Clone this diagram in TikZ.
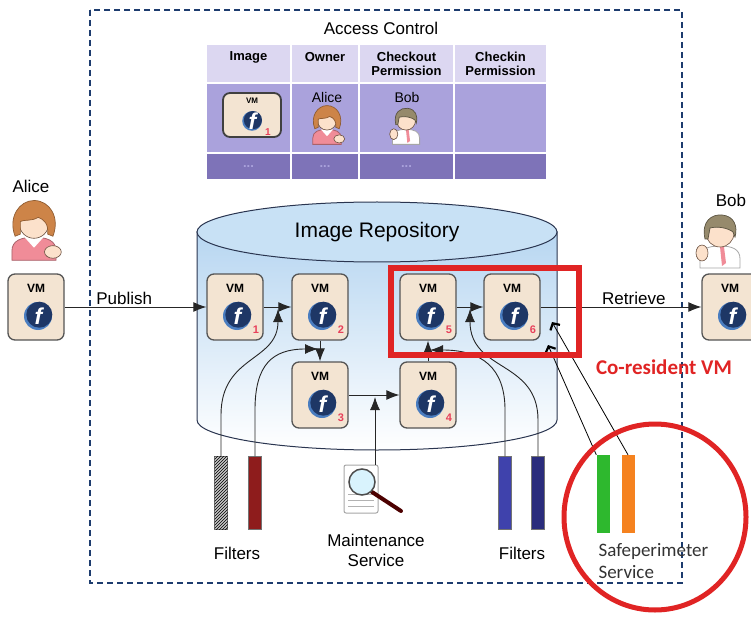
\documentclass[tikz,border=0pt]{standalone}
\usepackage{fontspec}
\setmainfont{Liberation Sans}
\newfontfamily\calibri{Carlito}
\usetikzlibrary{arrows.meta,patterns}

\definecolor{navy}{HTML}{1D3C6E}
\definecolor{vmfill}{HTML}{F3E4D2}
\definecolor{vmline}{HTML}{555555}
\definecolor{fedblue}{HTML}{1E3766}
\definecolor{fedlight}{HTML}{4A7DC0}
\definecolor{numred}{HTML}{E8405A}
\definecolor{achead}{HTML}{DCD7F1}
\definecolor{acbody}{HTML}{AAA2DC}
\definecolor{acfoot}{HTML}{7E73B8}
\definecolor{cylblue}{HTML}{B7D6F1}
\definecolor{cyltop}{HTML}{C8E1F5}
\definecolor{cylline}{HTML}{2A3550}
\definecolor{alarm}{HTML}{E02424}
\definecolor{skin}{HTML}{FCE1CB}
\definecolor{hairbrown}{HTML}{CD8448}
\definecolor{hairgrey}{HTML}{968A6C}
\definecolor{pinkbody}{HTML}{F08C98}
\definecolor{outline}{HTML}{6A5040}
\definecolor{filtred}{HTML}{8E1C1C}
\definecolor{filtblue}{HTML}{3F42AC}
\definecolor{filtnavy}{HTML}{2A2C7C}
\definecolor{spgreen}{HTML}{2EB82E}
\definecolor{sporange}{HTML}{F5821F}

\tikzset{
  vm/.style={draw=vmline, line width=1.3pt, fill=vmfill, rounded corners=7pt,
    minimum width=56pt, minimum height=66pt, inner sep=0pt},
  vmtag/.style={font=\bfseries\fontsize{12}{12}\selectfont, inner sep=0pt},
  vmnum/.style={font=\bfseries\fontsize{11}{11}\selectfont, text=numred, inner sep=0pt},
  cell/.style={minimum height=#1, inner sep=0pt, align=center,
    font=\bfseries\fontsize{13}{14}\selectfont},
  lbl/.style={font=\fontsize{17}{20}\selectfont, align=center, inner sep=2pt},
  flow/.style={-{Latex[length=13pt,width=10pt]}, line width=1pt, draw=black!85},
  tap/.style={-{Latex[length=13pt,width=10pt]}, line width=0.9pt, draw=black!85},
  probe/.style={-{Straight Barb[length=5pt,width=11pt,line width=2.2pt]}, line width=0.8pt},
  bar/.style={draw=black!55, fill=#1, minimum width=13pt, minimum height=73pt, inner sep=0pt},
  pics/fedora/.style={code={
    \fill[fedlight] (0,0) circle[radius=14pt];
    \fill[fedblue] (1.3,-1.3) circle[radius=13pt];
    \node[text=white, font=\bfseries\itshape\fontsize{23}{23}\selectfont] (-f) at (0.5,0.5) {f};
  }},
  pics/alice/.style={code={
    % body and collar
    \draw[fill=pinkbody, draw=pinkbody!70!black, line width=0.8pt]
      (-21,27) -- (-21,18) .. controls (-21,8) and (-12,5) .. (0,5)
      .. controls (12,5) and (21,8) .. (21,18) -- (21,27) -- cycle;
    \fill[white] (-9,5) -- (9,5) -- (0,15) -- cycle;
    % face
    \draw[fill=skin, draw=outline, line width=0.6pt] (0,-8) circle[radius=14pt];
    % hair
    \draw[fill=hairbrown, draw=hairbrown!70!black, line width=0.7pt]
      (-18,4) .. controls (-25,-14) and (-14,-30) .. (0,-30)
      .. controls (15,-30) and (25,-14) .. (18,4)
      -- (13,2) .. controls (14,-7) and (10,-12) .. (4,-14)
      .. controls (-2,-10) and (-10,-12) .. (-13,-10) -- (-13,2) -- cycle;
    % hand
    \draw[fill=skin, draw=outline, line width=0.6pt] (18,19) ellipse[x radius=8pt, y radius=6pt];
  }},
  pics/bob/.style={code={
    % shirt and tie
    \draw[fill=white, draw=gray!70, line width=0.8pt]
      (-20,27) -- (-20,18) .. controls (-20,8) and (-12,5) .. (0,5)
      .. controls (12,5) and (20,8) .. (20,18) -- (20,27) -- cycle;
    \fill[pinkbody] (0,6) -- (4,6) -- (6,22) -- (2,25) -- cycle;
    % face
    \draw[fill=skin, draw=outline, line width=0.6pt] (0,-8) circle[radius=14pt];
    % hair
    \draw[fill=hairgrey, draw=hairgrey!60!black, line width=0.7pt]
      (-15,-2) .. controls (-19,-20) and (-8,-27) .. (2,-26)
      .. controls (14,-25) and (18,-15) .. (15,-4)
      -- (13,-9) .. controls (8,-13) and (-2,-15) .. (-10,-13)
      -- (-12,-2) -- cycle;
    % raised hand
    \draw[fill=skin, draw=outline, line width=0.6pt] (-18,12) ellipse[x radius=6pt, y radius=8pt];
  }},
}

% one VM image: box, tag, logo and index
\newcommand{\vmbox}[3]{%
  \node[vm] (#1) at (#2) {};
  \node[vmtag] (#1-tag) at ([yshift=19pt]#1.center) {VM};
  \pic (#1-logo) at ([xshift=2pt,yshift=-9pt]#1.center) {fedora};
  \node[vmnum] (#1-num) at ([xshift=21pt,yshift=-23pt]#1.center) {#3};
}

\begin{document}
\begin{tikzpicture}[x=1pt, y=-1pt]
  \useasboundingbox (0,0) rectangle (751,617);
  \clip (0,0) rectangle (751,617);

  % trusted domain
  \draw[navy, line width=2.6pt, dash pattern=on 6pt off 4pt] (90,10) rectangle (682,583);

  % access control table
  \node[font=\fontsize{17}{19}\selectfont] (ac) at (381,28) {Access Control};
  \node[cell=37pt, minimum width=83pt, fill=achead] (ac-h1) at (248.5,63.5) {Image\\~};
  \node[cell=37pt, minimum width=66pt, fill=achead] (ac-h2) at (325,63.5) {Owner\\~};
  \node[cell=37pt, minimum width=93pt, fill=achead] (ac-h3) at (406.5,63.5) {Checkout\\Permission};
  \node[cell=37pt, minimum width=91pt, fill=achead] (ac-h4) at (500.5,63.5) {Checkin\\Permission};
  \node[cell=68pt, minimum width=83pt, fill=acbody] (ac-b1) at (248.5,118) {};
  \node[cell=68pt, minimum width=66pt, fill=acbody] (ac-b2) at (325,118) {};
  \node[cell=68pt, minimum width=93pt, fill=acbody] (ac-b3) at (406.5,118) {};
  \node[cell=68pt, minimum width=91pt, fill=acbody] (ac-b4) at (500.5,118) {};
  \node[cell=25pt, minimum width=83pt, fill=acfoot, text=acbody] (ac-f1) at (248.5,166.5) {...};
  \node[cell=25pt, minimum width=66pt, fill=acfoot, text=acbody] (ac-f2) at (325,166.5) {...};
  \node[cell=25pt, minimum width=93pt, fill=acfoot, text=acbody] (ac-f3) at (406.5,166.5) {...};
  \node[cell=25pt, minimum width=91pt, fill=acfoot] (ac-f4) at (500.5,166.5) {};

  \node[vm, minimum width=58pt, minimum height=44pt, line width=1.8pt, draw=black!75] (ac-vm) at (252,115) {};
  \node[vmtag, font=\bfseries\fontsize{8}{8}\selectfont] (ac-vm-tag) at (252,101) {VM};
  \pic[scale=0.7] (ac-vm-logo) at (252,121) {fedora};
  \node[vmnum, font=\bfseries\fontsize{10}{10}\selectfont] (ac-vm-num) at (268,132) {1};
  \node[font=\fontsize{14}{14}\selectfont] (ac-alice) at (327,97) {Alice};
  \pic[scale=0.68] (ac-alice-fig) at (327,126) {alice};
  \node[font=\fontsize{14}{14}\selectfont] (ac-bob) at (407,97) {Bob};
  \pic[scale=0.68] (ac-bob-fig) at (406,126) {bob};

  % image repository
  \path[top color=cylblue, bottom color=white, draw=cylline, line width=1pt]
    (197,232) -- (197,420) arc[start angle=180, end angle=360, x radius=180pt, y radius=30pt]
    -- (557,232) -- cycle;
  \draw[fill=cyltop, draw=cylline, line width=1pt] (377,232) ellipse[x radius=180pt, y radius=30pt];
  \node[font=\fontsize{21}{21}\selectfont] (repo) at (377,232) {Image Repository};

  % publisher and consumer
  \node[lbl] (alice) at (31,186) {Alice};
  \pic[scale=1.05] (alice-fig) at (34,232) {alice};
  \node[lbl] (bob) at (731,200) {Bob};
  \pic (bob-fig) at (720,241) {bob};

  \vmbox{vmA}{36,307}{}
  \vmbox{vm1}{235,307}{1}
  \vmbox{vm2}{320,307}{2}
  \vmbox{vm3}{320,395}{3}
  \vmbox{vm4}{428,395}{4}
  \vmbox{vm5}{428,307}{5}
  \vmbox{vm6}{512,307}{6}
  \vmbox{vmB}{730,307}{}

  \draw[flow] (vmA) -- node[lbl, above, pos=0.42] (pub) {Publish} (vm1);
  \draw[flow] (vm1) -- (vm2);
  \draw[flow] (vm2) -- (vm3);
  \draw[flow] (vm3) -- (vm4);
  \draw[flow] (vm4) -- (vm5);
  \draw[flow] (vm5) -- (vm6);
  \draw[flow] (vm6) -- node[lbl, above, pos=0.58] (ret) {Retrieve} (vmB);

  % filters and maintenance service
  \node[bar=gray!45, postaction={pattern=north east lines}] (f1) at (221,493) {};
  \node[bar=filtred] (f2) at (255,493) {};
  \node[bar=filtblue] (f3) at (505,493) {};
  \node[bar=filtnavy] (f4) at (538,493) {};
  \node[lbl] (filt-l) at (237,553) {Filters};
  \node[lbl] (filt-r) at (522,553) {Filters};

  \node[draw=gray!70, fill=white, rounded corners=2pt, line width=1pt,
    minimum width=34pt, minimum height=48pt, inner sep=0pt] (maint) at (361,489) {};
  \foreach \y in {494,500,506}
    \draw[gray!60, line width=0.8pt] (348,\y) -- (374,\y);
  \draw[draw=black!70!red, line width=4pt, line cap=round] (372,492) -- (401,511);
  \draw[fill=cyan!15, draw=black!70, line width=1.5pt] (362,482) circle[radius=13pt];
  \node[lbl] (maint-lbl) at (376,550) {Maintenance\\Service};

  \coordinate (t12) at (278,309);
  \coordinate (t23) at (318,349);
  \coordinate (t34) at (375,397);
  \coordinate (t45) at (430,350);
  \coordinate (t56) at (470,309);
  \draw[tap] (f1.north) -- (221,415) .. controls (221,355) and (278,362) .. (t12);
  \draw[tap] (f2.north) -- (255,410) .. controls (255,365) and (272,349) .. (t23);
  \draw[tap] (maint.north -| t34) -- (t34);
  \draw[tap] (f3.north) -- (505,410) .. controls (505,368) and (482,350) .. (t45);
  \draw[tap] (f4.north) -- (538,420) .. controls (538,360) and (470,372) .. (t56);

  % co-resident check
  \node[bar=spgreen, draw=none, minimum height=78pt] (sp1) at (603,494) {};
  \node[bar=sporange, draw=none, minimum height=78pt] (sp2) at (628,494) {};
  \coordinate (s1) at (548,345);
  \coordinate (s2) at (552,322);
  \draw[probe] (sp1.north west) -- (s1);
  \draw[probe] (sp2.north) -- (s2);
  \node[font=\calibri\fontsize{19}{22}\selectfont, text=black!80, align=left, anchor=west] (sp)
    at (595,561) {Safeperimeter\\Service};

  \draw[alarm, line width=6pt] (391,268) rectangle (579,355);
  \node[font=\calibri\bfseries\fontsize{21}{21}\selectfont, text=alarm] (cores) at (664,367) {Co-resident VM};
  \draw[alarm, line width=5pt] (655,517) ellipse[x radius=91pt, y radius=93pt];
\end{tikzpicture}
\end{document}
